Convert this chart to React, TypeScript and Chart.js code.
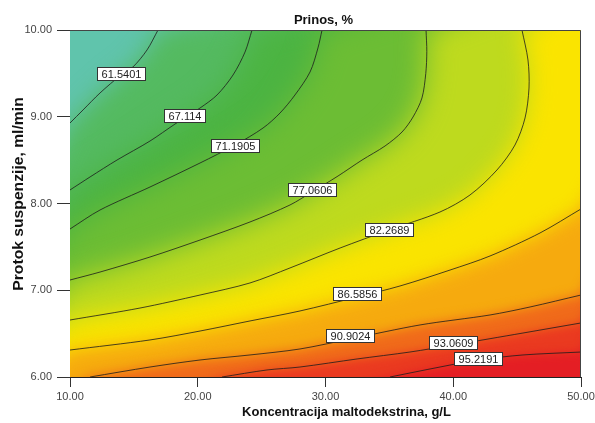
import React, { useEffect, useRef } from 'react';
import { Chart, registerables } from 'chart.js';
Chart.register(...registerables);

const FONT = 'Arial, "Liberation Sans", Helvetica, sans-serif';

const chartTitle = 'Prinos, %';
const xTitle = 'Koncentracija maltodekstrina, g/L';
const yTitle = 'Protok suspenzije, ml/min';

const xTicks = [10, 20, 30, 40, 50];
const yTicks = [6, 7, 8, 9, 10];
const xRange = [10, 50];
const yRange = [6, 10];

const levels = [61.5401, 67.114, 71.1905, 77.0606, 82.2689, 86.5856, 90.9024, 93.0609, 95.2191];

// contour paths [x, y]
const c61 = [[10, 8.928], [11.02, 9.078], [12.35, 9.274], [13.99, 9.481], [14.93, 9.574], [16.03, 9.77], [16.89, 10]];
const c67 = [[10, 8.156], [11.57, 8.306], [13.68, 8.501], [16.26, 8.72], [18.22, 8.916], [20.18, 9.101], [21.51, 9.251], [22.76, 9.481], [23.7, 9.746], [24.25, 10]];
const c71 = [[10, 7.706], [12.35, 7.925], [16.26, 8.19], [20.18, 8.467], [22.92, 8.674], [25.11, 8.87], [26.44, 9.043], [27.61, 9.251], [28.79, 9.516], [29.41, 9.793], [29.73, 10]];
const c77 = [[10, 7.118], [12.35, 7.21], [16.26, 7.383], [20.18, 7.579], [24.09, 7.787], [27.22, 7.983], [28.94, 8.133], [30.98, 8.317], [32.86, 8.501], [34.66, 8.663], [35.99, 8.824], [36.85, 8.997], [37.55, 9.216], [37.85, 9.5], [37.93, 9.75], [37.87, 10]];
const c82 = [[10, 6.657], [15.48, 6.795], [20.18, 6.945], [24.09, 7.084], [27.22, 7.257], [31.14, 7.487], [34.97, 7.695], [38.96, 7.902], [41.31, 8.098], [43.42, 8.386], [44.83, 8.674], [45.62, 8.986], [45.93, 9.331], [45.85, 9.654], [45.38, 10]];
const c86 = [[10, 6.311], [16.26, 6.427], [20.18, 6.53], [24.09, 6.646], [28.0, 6.761], [32.47, 6.922], [35.83, 7.049], [39.75, 7.233], [42.88, 7.395], [46.79, 7.66], [50, 7.937]];
const c90 = [[11.57, 6.0], [16.26, 6.115], [20.18, 6.196], [24.09, 6.254], [28.0, 6.323], [31.92, 6.438], [37.4, 6.6], [42.88, 6.715], [46.01, 6.807], [50, 6.945]];
const c93 = [[21.9, 6.0], [25.42, 6.081], [28.0, 6.115], [32.47, 6.208], [36.61, 6.288], [39.98, 6.369], [45.46, 6.507], [50, 6.623]];
const c95 = [[35.05, 6.0], [38.96, 6.115], [41.94, 6.196], [45.46, 6.254], [50, 6.288]];

const contours = [c61, c67, c71, c77, c82, c86, c90, c93, c95];

// label anchor positions for each contour level
const labelX = [13.99, 19.0, 22.92, 28.94, 34.97, 32.47, 31.92, 39.98, 41.94];
const labelY = [9.493, 9.009, 8.663, 8.167, 7.706, 6.968, 6.473, 6.392, 6.208];

// styles
const bandColors = [
  'rgb(96,196,172)',
  'rgb(84,186,96)',
  'rgb(76,180,66)',
  'rgb(108,189,52)',
  'rgb(190,218,30)',
  'rgb(250,228,0)',
  'rgb(246,170,14)',
  'rgb(240,106,26)',
  'rgb(234,58,32)',
  'rgb(228,30,36)',
];
const layerBlur = [12, 14, 14, 14, 12, 9, 6, 5, 5];

const surfacePlugin = {
  id: 'surface',
  beforeDatasetsDraw(chart: any) {
    const { ctx, chartArea: a, scales } = chart;
    const sx = scales.x, sy = scales.y;
    ctx.save();
    ctx.beginPath();
    ctx.rect(a.left, a.top, a.right - a.left, a.bottom - a.top);
    ctx.clip();
    ctx.fillStyle = bandColors[0];
    ctx.fillRect(a.left - 60, a.top - 60, a.right - a.left + 120, a.bottom - a.top + 120);
    contours.forEach((c, i) => {
      ctx.filter = `blur(${layerBlur[i]}px)`;
      ctx.fillStyle = bandColors[i + 1];
      ctx.beginPath();
      c.forEach((p, j) => {
        const X = sx.getPixelForValue(p[0]);
        const Y = sy.getPixelForValue(p[1]);
        if (j === 0) ctx.moveTo(X, Y); else ctx.lineTo(X, Y);
      });
      ctx.lineTo(sx.getPixelForValue(xRange[1] + 15), sy.getPixelForValue(yRange[1] + 1.5));
      ctx.lineTo(sx.getPixelForValue(xRange[1] + 15), sy.getPixelForValue(yRange[0] - 1.5));
      ctx.lineTo(sx.getPixelForValue(xRange[0] - 15), sy.getPixelForValue(yRange[0] - 1.5));
      ctx.closePath();
      ctx.fill();
    });
    ctx.filter = 'none';
    ctx.restore();
  },
  afterDatasetsDraw(chart: any) {
    const { ctx, chartArea: a, scales } = chart;
    const sx = scales.x, sy = scales.y;
    ctx.save();
    // frame top/right
    ctx.strokeStyle = '#444';
    ctx.lineWidth = 1;
    ctx.beginPath();
    ctx.moveTo(a.left, a.top + 0.5);
    ctx.lineTo(a.right - 0.5, a.top + 0.5);
    ctx.lineTo(a.right - 0.5, a.bottom);
    ctx.stroke();
    // contour labels
    ctx.font = `11px ${FONT}`;
    ctx.textAlign = 'center';
    ctx.textBaseline = 'middle';
    levels.forEach((lv, i) => {
      const txt = String(lv);
      const cx = sx.getPixelForValue(labelX[i]);
      const cy = sy.getPixelForValue(labelY[i]);
      const w = Math.round(ctx.measureText(txt).width + 8);
      const h = 13;
      const x0 = Math.round(cx - w / 2) + 0.5;
      const y0 = Math.round(cy - h / 2) + 0.5;
      ctx.fillStyle = '#ffffff';
      ctx.fillRect(x0, y0, w, h);
      ctx.strokeStyle = '#333';
      ctx.strokeRect(x0, y0, w, h);
      ctx.fillStyle = '#222';
      ctx.fillText(txt, x0 + w / 2, y0 + h / 2 + 0.5);
    });
    ctx.restore();
  },
  afterDraw(chart: any) {
    const { ctx, chartArea: a } = chart;
    ctx.save();
    ctx.fillStyle = '#111';
    ctx.textAlign = 'center';
    ctx.textBaseline = 'middle';
    ctx.font = `bold 13px ${FONT}`;
    ctx.fillText(chartTitle, (a.left + a.right) / 2 - 2, 20);
    ctx.font = `bold 13px ${FONT}`;
    ctx.fillText(xTitle, (a.left + a.right) / 2 + 21, 412);
    ctx.translate(19, 194);
    ctx.rotate(-Math.PI / 2);
    ctx.scale(1.12, 1);
    ctx.font = `bold 14px ${FONT}`;
    ctx.fillText(yTitle, 0, 0);
    ctx.restore();
  },
};

export default function App() {
  const ref = useRef<HTMLCanvasElement | null>(null);
  useEffect(() => {
    if (!ref.current) return;
    const chart = new Chart(ref.current, {
      type: 'scatter',
      data: {
        datasets: contours.map((c, i) => ({
          label: String(levels[i]),
          data: c.map((p) => ({ x: p[0], y: p[1] })),
          showLine: true,
          borderColor: '#1c1c1c',
          borderWidth: 0.8,
          pointRadius: 0,
          tension: 0.3,
          fill: false,
        })),
      },
      options: {
        responsive: false,
        animation: false,
        devicePixelRatio: 1,
        layout: { padding: { top: 30, right: 14, left: 0, bottom: 0 } },
        plugins: {
          legend: { display: false },
          tooltip: { enabled: false },
          title: { display: false },
        },
        scales: {
          x: {
            type: 'linear',
            min: xRange[0],
            max: xRange[1],
            afterBuildTicks: (s: any) => {
              s.ticks = xTicks.map((v) => ({ value: v }));
            },
            afterFit: (s: any) => {
              s.height = 46;
              s.paddingLeft = 0;
              s.paddingRight = 0;
            },
            ticks: {
              callback: (v: any) => Number(v).toFixed(2),
              font: { size: 11, family: FONT },
              color: '#444',
              padding: 3,
              maxRotation: 0,
            },
            grid: { drawOnChartArea: false, drawTicks: true, tickLength: 10, tickColor: '#333' },
            border: { display: true, color: '#222', width: 1 },
          },
          y: {
            type: 'linear',
            min: yRange[0],
            max: yRange[1],
            afterBuildTicks: (s: any) => {
              s.ticks = yTicks.map((v) => ({ value: v }));
            },
            afterFit: (s: any) => {
              s.width = 70;
              s.paddingTop = 0;
              s.paddingBottom = 0;
            },
            ticks: {
              callback: (v: any) => Number(v).toFixed(2),
              font: { size: 11, family: FONT },
              color: '#444',
              padding: 5,
            },
            grid: { drawOnChartArea: false, drawTicks: true, tickLength: 13, tickColor: '#333' },
            border: { display: true, color: '#222', width: 1 },
          },
        },
      },
      plugins: [surfacePlugin],
    } as any);
    return () => chart.destroy();
  }, []);
  return (
    <div style={{ position: 'fixed', left: 0, top: 0, width: 595, height: 423, background: '#fff' }}>
      <canvas ref={ref} width={595} height={423} />
    </div>
  );
}
